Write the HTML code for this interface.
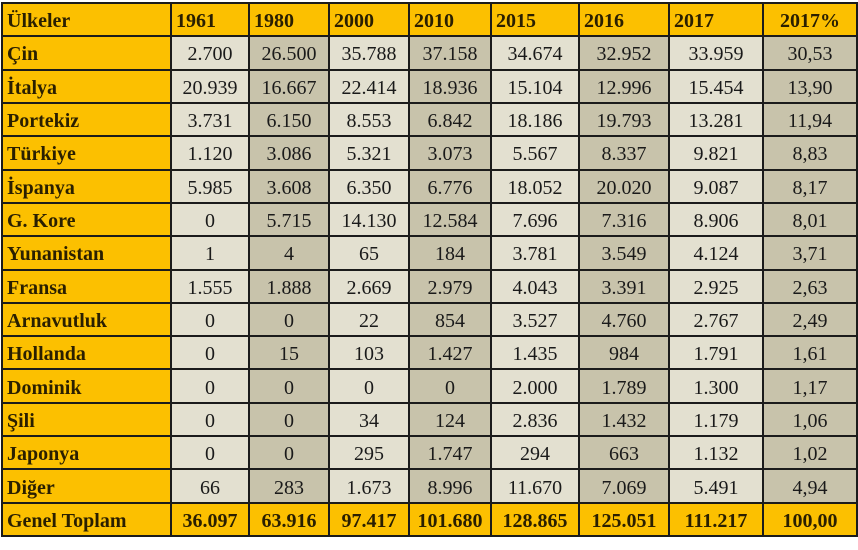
<!DOCTYPE html>
<html><head><meta charset="utf-8"><style>
body{margin:0;width:858px;height:550px;background:#fff;overflow:hidden}
table{position:absolute;left:1px;top:2px;border-collapse:collapse;font-family:"Liberation Serif",serif;table-layout:fixed;height:535px}
td{border:2px solid #1b1b1b;padding:0;font-size:20px;color:#1a1a1a;text-align:center;line-height:24px;padding-top:3px;box-sizing:border-box}
td.y{background:#fcc000;font-weight:bold;color:#2a1f00}
td.n{text-align:left;padding-left:4px}
td.l{background:#e3e0d0}
td.d{background:#c8c3ab}
</style></head><body>
<table>
<colgroup><col style="width:169px"><col style="width:78px"><col style="width:80px"><col style="width:80px"><col style="width:82px"><col style="width:88px"><col style="width:90px"><col style="width:94px"><col style="width:94px"></colgroup>
<tr><td class="y n">Ülkeler</td><td class="y n">1961</td><td class="y n">1980</td><td class="y n">2000</td><td class="y n">2010</td><td class="y n">2015</td><td class="y n">2016</td><td class="y n">2017</td><td class="y">2017%</td></tr>
<tr><td class="y n">Çin</td><td class="l">2.700</td><td class="d">26.500</td><td class="l">35.788</td><td class="d">37.158</td><td class="l">34.674</td><td class="d">32.952</td><td class="l">33.959</td><td class="d">30,53</td></tr>
<tr><td class="y n">İtalya</td><td class="l">20.939</td><td class="d">16.667</td><td class="l">22.414</td><td class="d">18.936</td><td class="l">15.104</td><td class="d">12.996</td><td class="l">15.454</td><td class="d">13,90</td></tr>
<tr><td class="y n">Portekiz</td><td class="l">3.731</td><td class="d">6.150</td><td class="l">8.553</td><td class="d">6.842</td><td class="l">18.186</td><td class="d">19.793</td><td class="l">13.281</td><td class="d">11,94</td></tr>
<tr><td class="y n">Türkiye</td><td class="l">1.120</td><td class="d">3.086</td><td class="l">5.321</td><td class="d">3.073</td><td class="l">5.567</td><td class="d">8.337</td><td class="l">9.821</td><td class="d">8,83</td></tr>
<tr><td class="y n">İspanya</td><td class="l">5.985</td><td class="d">3.608</td><td class="l">6.350</td><td class="d">6.776</td><td class="l">18.052</td><td class="d">20.020</td><td class="l">9.087</td><td class="d">8,17</td></tr>
<tr><td class="y n">G. Kore</td><td class="l">0</td><td class="d">5.715</td><td class="l">14.130</td><td class="d">12.584</td><td class="l">7.696</td><td class="d">7.316</td><td class="l">8.906</td><td class="d">8,01</td></tr>
<tr><td class="y n">Yunanistan</td><td class="l">1</td><td class="d">4</td><td class="l">65</td><td class="d">184</td><td class="l">3.781</td><td class="d">3.549</td><td class="l">4.124</td><td class="d">3,71</td></tr>
<tr><td class="y n">Fransa</td><td class="l">1.555</td><td class="d">1.888</td><td class="l">2.669</td><td class="d">2.979</td><td class="l">4.043</td><td class="d">3.391</td><td class="l">2.925</td><td class="d">2,63</td></tr>
<tr><td class="y n">Arnavutluk</td><td class="l">0</td><td class="d">0</td><td class="l">22</td><td class="d">854</td><td class="l">3.527</td><td class="d">4.760</td><td class="l">2.767</td><td class="d">2,49</td></tr>
<tr><td class="y n">Hollanda</td><td class="l">0</td><td class="d">15</td><td class="l">103</td><td class="d">1.427</td><td class="l">1.435</td><td class="d">984</td><td class="l">1.791</td><td class="d">1,61</td></tr>
<tr><td class="y n">Dominik</td><td class="l">0</td><td class="d">0</td><td class="l">0</td><td class="d">0</td><td class="l">2.000</td><td class="d">1.789</td><td class="l">1.300</td><td class="d">1,17</td></tr>
<tr><td class="y n">Şili</td><td class="l">0</td><td class="d">0</td><td class="l">34</td><td class="d">124</td><td class="l">2.836</td><td class="d">1.432</td><td class="l">1.179</td><td class="d">1,06</td></tr>
<tr><td class="y n">Japonya</td><td class="l">0</td><td class="d">0</td><td class="l">295</td><td class="d">1.747</td><td class="l">294</td><td class="d">663</td><td class="l">1.132</td><td class="d">1,02</td></tr>
<tr><td class="y n">Diğer</td><td class="l">66</td><td class="d">283</td><td class="l">1.673</td><td class="d">8.996</td><td class="l">11.670</td><td class="d">7.069</td><td class="l">5.491</td><td class="d">4,94</td></tr>
<tr><td class="y n">Genel Toplam</td><td class="y">36.097</td><td class="y">63.916</td><td class="y">97.417</td><td class="y">101.680</td><td class="y">128.865</td><td class="y">125.051</td><td class="y">111.217</td><td class="y">100,00</td></tr>
</table>
</body></html>
